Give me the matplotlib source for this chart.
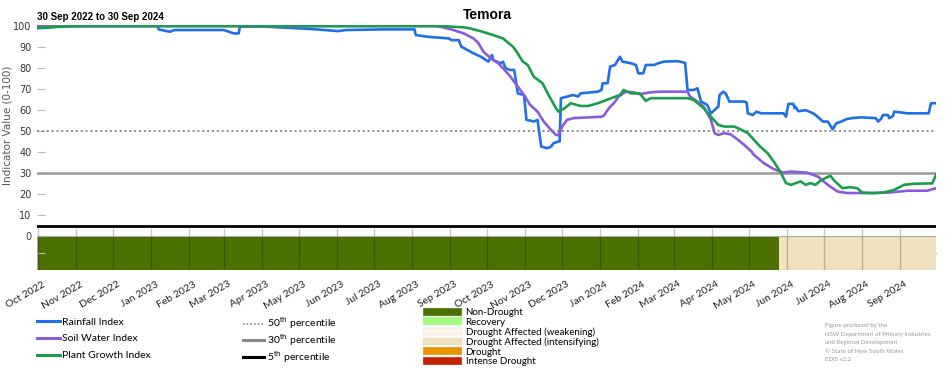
import matplotlib
matplotlib.use("Agg")
import matplotlib.pyplot as plt
import matplotlib.dates as mdates
import matplotlib.transforms as mtransforms
from matplotlib.lines import Line2D
from matplotlib.patches import Patch
import pandas as pd

# ---------------- data ----------------
title = "Temora"
subtitle = "30 Sep 2022 to 30 Sep 2024"

rain_dates = ["2022-09-30", "2022-10-10", "2022-10-20", "2023-01-06", "2023-01-07", "2023-01-16", "2023-01-20",
              "2023-03-01", "2023-03-09", "2023-03-13", "2023-03-14", "2023-04-01", "2023-05-11", "2023-06-02",
              "2023-06-08", "2023-07-07", "2023-08-03", "2023-08-04", "2023-08-14", "2023-08-31", "2023-09-02",
              "2023-09-08", "2023-09-10", "2023-09-15", "2023-09-20", "2023-09-26", "2023-10-02", "2023-10-05",
              "2023-10-06", "2023-10-12", "2023-10-14", "2023-10-16", "2023-10-20", "2023-10-23", "2023-10-26",
              "2023-10-31", "2023-11-02", "2023-11-08", "2023-11-11", "2023-11-14", "2023-11-19", "2023-11-22",
              "2023-11-24", "2023-11-28", "2023-11-29", "2023-11-30", "2023-12-10", "2023-12-14", "2023-12-16",
              "2023-12-30", "2024-01-02", "2024-01-03", "2024-01-07", "2024-01-09", "2024-01-13", "2024-01-17",
              "2024-01-19", "2024-01-26", "2024-01-30", "2024-02-01", "2024-02-05", "2024-02-07", "2024-02-14",
              "2024-02-17", "2024-02-22", "2024-03-04", "2024-03-10", "2024-03-12", "2024-03-17", "2024-03-20",
              "2024-03-23", "2024-03-28", "2024-03-31", "2024-04-03", "2024-04-06", "2024-04-07", "2024-04-10",
              "2024-04-12", "2024-04-15", "2024-04-27", "2024-04-29", "2024-04-30", "2024-05-04", "2024-05-07",
              "2024-05-11", "2024-05-29", "2024-05-31", "2024-06-02", "2024-06-06", "2024-06-07", "2024-06-08",
              "2024-06-10", "2024-06-16", "2024-06-19", "2024-06-22", "2024-06-24", "2024-06-27", "2024-06-30",
              "2024-07-04", "2024-07-08", "2024-07-11", "2024-07-15", "2024-07-19", "2024-07-23", "2024-07-31",
              "2024-08-12", "2024-08-14", "2024-08-16", "2024-08-18", "2024-08-22", "2024-08-23", "2024-08-26",
              "2024-08-27", "2024-09-07", "2024-09-24", "2024-09-26", "2024-09-30"]
rain_vals = [99.0, 99.3, 100.0, 100.0, 98.4, 97.3, 98.1,
             98.1, 96.5, 96.5, 99.7, 99.8, 98.6, 97.6,
             98.1, 98.4, 98.4, 95.7, 94.9, 94.1, 93.3,
             93.3, 90.2, 88.6, 87.0, 85.4, 83.1, 86.2,
             83.8, 82.3, 83.0, 79.9, 79.1, 79.1, 68.0,
             67.2, 55.4, 54.6, 55.4, 42.7, 41.9, 42.7,
             44.3, 45.1, 45.1, 65.7, 67.2, 66.5, 68.0,
             68.8, 69.6, 72.8, 72.8, 80.7, 81.5, 85.4,
             83.1, 82.3, 81.5, 77.5, 77.5, 81.5, 81.5,
             82.3, 83.1, 83.3, 82.5, 69.6, 69.6, 70.4,
             64.1, 62.5, 58.5, 60.1, 61.7, 67.2, 68.8,
             68.0, 64.1, 64.1, 63.6, 58.5, 57.7, 59.3,
             58.5, 58.5, 56.9, 63.0, 63.0, 60.9, 61.5,
             59.5, 60.0, 59.3, 58.5, 57.7, 56.2, 54.6,
             54.6, 50.9, 53.8, 54.6, 55.7, 56.2, 56.6,
             56.2, 54.6, 55.7, 57.7, 57.7, 56.2, 57.2,
             59.3, 58.5, 58.5, 63.3, 63.3]

soil_dates = ["2022-09-30", "2023-08-20", "2023-08-24", "2023-09-02", "2023-09-12", "2023-09-20", "2023-09-24",
              "2023-09-28", "2023-10-04", "2023-10-10", "2023-10-14", "2023-10-20", "2023-10-26", "2023-10-31",
              "2023-11-05", "2023-11-11", "2023-11-16", "2023-11-22", "2023-11-26", "2023-11-28", "2023-12-01",
              "2023-12-05", "2023-12-10", "2024-01-02", "2024-01-04", "2024-01-08", "2024-01-12", "2024-01-16",
              "2024-01-22", "2024-01-28", "2024-02-02", "2024-02-06", "2024-02-11", "2024-02-19", "2024-03-12",
              "2024-03-14", "2024-03-20", "2024-03-25", "2024-03-28", "2024-03-31", "2024-04-03", "2024-04-06",
              "2024-04-11", "2024-04-16", "2024-04-22", "2024-04-27", "2024-05-03", "2024-05-05", "2024-05-13",
              "2024-05-21", "2024-05-29", "2024-06-04", "2024-06-17", "2024-06-26", "2024-07-04", "2024-07-12",
              "2024-07-20", "2024-08-10", "2024-08-24", "2024-09-07", "2024-09-23", "2024-09-30"]
soil_vals = [100.0, 100.0, 99.7, 98.4, 96.5, 94.1, 91.8,
             87.8, 84.7, 82.3, 79.9, 75.9, 71.2, 67.2,
             62.5, 59.3, 54.6, 50.6, 48.2, 48.2, 52.2,
             55.4, 56.2, 56.9, 57.5, 60.9, 63.3, 66.5,
             68.8, 68.5, 67.7, 68.0, 68.5, 68.8, 68.8,
             66.5, 64.1, 61.7, 58.5, 55.4, 49.1, 48.2,
             49.1, 48.5, 45.9, 43.5, 40.3, 38.7, 34.8,
             32.0, 30.3, 30.8, 30.3, 28.4, 24.5, 21.3,
             20.6, 20.6, 20.9, 21.7, 21.7, 22.9]

plant_dates = ["2022-09-30", "2022-10-25", "2022-11-01", "2023-08-24", "2023-09-12", "2023-09-17", "2023-09-26",
               "2023-10-06", "2023-10-14", "2023-10-17", "2023-10-22", "2023-10-25", "2023-10-30", "2023-11-03",
               "2023-11-08", "2023-11-15", "2023-11-20", "2023-11-26", "2023-11-28", "2023-12-03", "2023-12-08",
               "2023-12-16", "2023-12-22", "2023-12-30", "2024-01-10", "2024-01-17", "2024-01-20", "2024-01-26",
               "2024-02-02", "2024-02-07", "2024-02-11", "2024-03-12", "2024-03-17", "2024-03-25", "2024-03-31",
               "2024-04-06", "2024-04-11", "2024-04-19", "2024-04-25", "2024-04-30", "2024-05-05", "2024-05-10",
               "2024-05-16", "2024-05-21", "2024-05-27", "2024-05-31", "2024-06-04", "2024-06-12", "2024-06-16",
               "2024-06-20", "2024-06-24", "2024-06-28", "2024-07-02", "2024-07-06", "2024-07-10", "2024-07-16",
               "2024-07-22", "2024-07-28", "2024-08-01", "2024-08-10", "2024-08-18", "2024-08-27", "2024-09-04",
               "2024-09-12", "2024-09-27", "2024-09-30"]
plant_vals = [99.2, 99.8, 100.0, 100.0, 99.4, 98.9, 97.5,
              95.7, 94.1, 92.6, 90.2, 87.8, 83.1, 81.5,
              75.9, 72.8, 67.2, 60.9, 59.3, 60.9, 63.3,
              62.0, 62.0, 63.3, 65.7, 67.2, 69.6, 68.0,
              68.0, 64.4, 65.7, 65.7, 64.9, 61.0, 56.9,
              53.0, 52.2, 52.2, 50.6, 49.1, 45.9, 42.7,
              39.6, 35.6, 30.1, 25.3, 24.5, 26.1, 24.5,
              25.3, 24.5, 26.4, 27.7, 28.8, 26.1, 22.9,
              23.4, 22.9, 20.8, 20.6, 20.8, 22.1, 24.5,
              25.0, 25.2, 29.2]

status_starts = ["2022-09-30", "2024-05-25"]
status_ends = ["2024-05-25", "2024-09-30"]
status_names = ["Non-Drought", "Drought Affected (intensifying)"]

category_names = ["Non-Drought", "Recovery", "Drought Affected (weakening)",
                  "Drought Affected (intensifying)", "Drought", "Intense Drought"]
category_colors = ["#4b7000", "#a3ff80", "#fdf5e7", "#efe2bd", "#e69400", "#c42100"]

percentile_values = [50, 30, 5]
percentile_labels = ["50$^{\\mathrm{th}}$ percentile", "30$^{\\mathrm{th}}$ percentile",
                     "5$^{\\mathrm{th}}$ percentile"]

series_names = ["Rainfall Index", "Soil Water Index", "Plant Growth Index"]
series_colors = ["#1f6fe6", "#8a5bdc", "#1a9e4c"]

yticks = [0, 10, 20, 30, 40, 50, 60, 70, 80, 90, 100]

# ---------------- figure ----------------
fig = plt.figure(figsize=(9.52, 3.70), dpi=100)
ax = fig.add_axes([37 / 952, 1 - 270 / 370, 899 / 952, 245 / 370])

date_start = pd.Timestamp("2022-09-30")
date_end = pd.Timestamp("2024-09-30")
ax.set_xlim(date_start, date_end)
ax.set_ylim(-16, 100.5)

# drought status band
cmap = dict(zip(category_names, category_colors))
for s, e, n in zip(status_starts, status_ends, status_names):
    s_ = pd.Timestamp(s)
    e_ = pd.Timestamp(e)
    ax.bar(s_, 16, width=(e_ - s_).days, bottom=-16, align="edge",
           color=cmap[n], edgecolor="none", zorder=1)
ax.bar(date_start, 16, width=(date_end - date_start).days, bottom=-16, align="edge",
       facecolor="none", edgecolor="#aaaaaa", linewidth=0.8, zorder=3)

# monthly tick lines through the band
months = pd.date_range("2022-10-01", "2024-09-01", freq="MS")
for m in months:
    ax.plot([m, m], [-16, 3.5], color="black", alpha=0.22, linewidth=1.0, zorder=2)

# percentile lines
ax.axhline(percentile_values[0], color="#888888", linestyle=(0, (1, 1.5)), linewidth=1.4, zorder=2)
ax.axhline(percentile_values[1], color="#999999", linestyle="-", linewidth=1.8, zorder=2)
ax.axhline(percentile_values[2], color="black", linestyle="-", linewidth=2.0, zorder=2)

# index lines
for d, v, c in [(rain_dates, rain_vals, series_colors[0]),
                (soil_dates, soil_vals, series_colors[1]),
                (plant_dates, plant_vals, series_colors[2])]:
    ax.plot(pd.to_datetime(d), v, color=c, linewidth=1.9, zorder=4, solid_joinstyle="round")

for spine in ax.spines.values():
    spine.set_visible(False)

ax.set_yticks(yticks + [-8])
ax.set_yticklabels([str(t) for t in yticks] + [""])
ax.tick_params(axis="y", direction="in", length=6, width=0.8, color="#bbbbbb",
               labelsize=7, labelcolor="#333333", pad=4)
ax.xaxis.set_major_locator(mdates.MonthLocator())
ax.xaxis.set_major_formatter(mdates.DateFormatter("%b %Y"))
ax.tick_params(axis="x", length=0, labelsize=7.5, labelcolor="#222222", pad=7)
shift = mtransforms.ScaledTranslation(4 / 100, 0, fig.dpi_scale_trans)
for lab in ax.get_xticklabels():
    lab.set_rotation(30)
    lab.set_ha("right")
    lab.set_rotation_mode("anchor")
    lab.set_family("Lato")
    lab.set_transform(lab.get_transform() + shift)

sec = ax.secondary_yaxis("right")
sec.set_yticks([-8])
sec.set_yticklabels([""])
sec.tick_params(direction="in", length=8, width=1.0, color="#777777")
sec.spines["right"].set_visible(False)

# titles
fig.text(487 / 952, 1 - 15 / 370, title, ha="center", va="center",
         fontsize=10, fontweight="bold", family="Liberation Sans")
fig.text(37 / 952, 1 - 17 / 370, subtitle, ha="left", va="center",
         fontsize=7, fontweight="bold", family="Liberation Sans")
fig.text(8 / 952, 1 - 125 / 370, "Indicator Value (0-100)", rotation=90,
         ha="center", va="center", fontsize=7.5, color="#555555")

# legends
h1 = [Line2D([], [], color=c, linewidth=2.2) for c in series_colors]
fig.legend(h1, series_names, loc="upper left", bbox_to_anchor=(28 / 952, 1 - 308 / 370),
           frameon=False, handlelength=2.2, handletextpad=0.2,
           labelspacing=0.72, prop={"family": "Lato", "size": 7.5})

h2 = [Line2D([], [], color="#888888", linestyle=(0, (1, 1.2)), linewidth=1.2),
      Line2D([], [], color="#888888", linewidth=2.2),
      Line2D([], [], color="black", linewidth=2.2)]
fig.legend(h2, percentile_labels, loc="upper left", bbox_to_anchor=(234 / 952, 1 - 306 / 370),
           frameon=False, handlelength=2.0, handletextpad=0.3,
           labelspacing=0.1, prop={"family": "Lato", "size": 7.5})

h3 = [Patch(facecolor=c, edgecolor="#dddddd", linewidth=0.3) for c in category_colors]
fig.legend(h3, category_names, loc="upper left", bbox_to_anchor=(414 / 952, 1 - 299 / 370),
           frameon=False, handlelength=4.0, handleheight=0.85, handletextpad=0.4,
           labelspacing=0.05, prop={"family": "Lato", "size": 7})

footer = ["Figure produced by the", "NSW Department of Primary Industries",
          "and Regional Development", "\u00a9 State of New South Wales", "EDIS v2.2"]
fig.text(825 / 952, 1 - 323 / 370, "\n".join(footer), ha="left", va="top",
         fontsize=4.4, color="#999999", family="Lato", linespacing=1.9)

fig.savefig("out.png", dpi=100)
